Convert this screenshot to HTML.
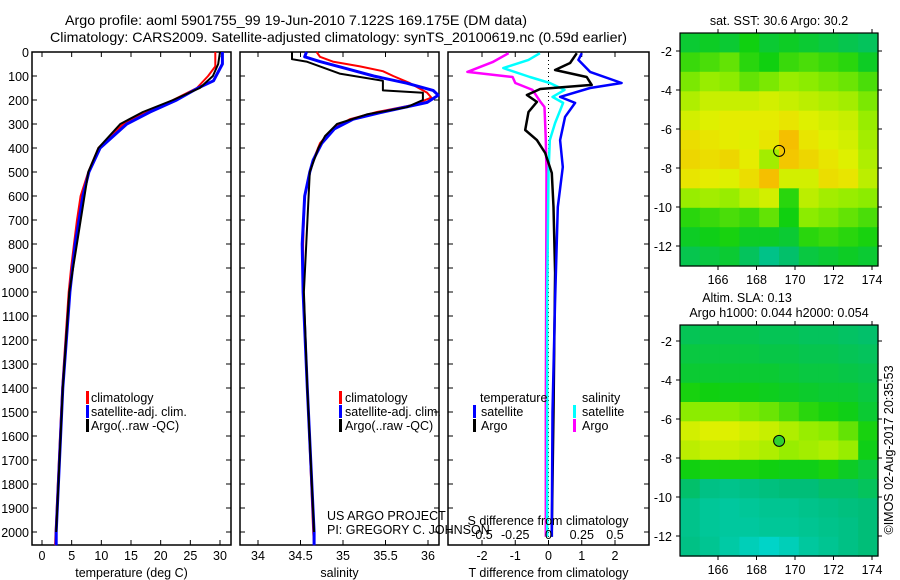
<!DOCTYPE html>
<html><head><meta charset="utf-8">
<style>
html,body{margin:0;padding:0;background:#fff;}
svg{display:block;font-family:"Liberation Sans",sans-serif;}
</style></head>
<body>
<svg id="fig" width="900" height="580" viewBox="0 0 900 580">
<text x="65" y="25" font-size="14" textLength="462" lengthAdjust="spacingAndGlyphs">Argo profile: aoml 5901755_99 19-Jun-2010 7.122S 169.175E (DM data)</text>
<text x="50" y="42" font-size="14" textLength="577" lengthAdjust="spacingAndGlyphs">Climatology: CARS2009. Satellite-adjusted climatology: synTS_20100619.nc (0.59d earlier)</text>
</svg>
<script>
// ---------- data ----------
const depthTicks = [0,100,200,300,400,500,600,700,800,900,1000,1100,1200,1300,1400,1500,1600,1700,1800,1900,2000];
const tempTicks = [0,5,10,15,20,25,30];
const salTicks = [34,34.5,35,35.5,36];
const tdiffTicks = [-2,-1,0,1,2];
const sdiffTicks = [-0.5,-0.25,0,0.25,0.5];

const tClimDepth = [0,60,100,150,200,250,300,350,400,500,600,700,800,900,1000,1400,2000,2055];
const tClim      = [29.2,29.2,28,26.1,22.1,17.7,13.7,11.5,9.5,7.8,6.5,5.9,5.4,4.9,4.5,3.4,2.3,2.2];
const tSatDepth = [0,50,120,150,200,250,300,400,500,600,800,1000,1400,2000,2055];
const tSat      = [30.4,30.4,28.9,26.3,22.7,18.2,14.3,9.8,7.9,6.9,5.6,4.7,3.5,2.4,2.4];
const tArgoDepth = [0,50,100,150,200,250,300,400,500,1000,1400,2000];
const tArgo      = [30.0,29.7,28.8,26.6,22.1,17,13.2,9.5,7.8,4.6,3.5,2.4];

const sClimDepth = [0,20,40,60,80,100,130,170,190,220,250,280,320,380,450,500,600,800,1000,1400,2000,2055];
const sClim      = [34.69,34.73,34.88,35.2,35.47,35.59,35.79,35.99,36.04,35.83,35.4,35.08,34.88,34.73,34.65,34.61,34.55,34.53,34.53,34.58,34.65,34.66];
const sSatDepth = [0,20,40,70,100,130,160,180,210,250,280,320,380,450,500,600,800,1000,1400,2000,2055];
const sSat      = [34.57,34.55,34.73,35.05,35.36,35.75,36.06,36.12,35.99,35.47,35.12,34.9,34.75,34.65,34.61,34.55,34.52,34.53,34.58,34.66,34.66];
const sArgoDepth = [0,30,40,60,90,120,160,170,200,230,260,300,350,400,500,1000,1400,2000];
const sArgo      = [34.4,34.4,34.57,34.73,34.96,35.47,35.47,35.94,35.94,35.75,35.28,34.93,34.79,34.71,34.61,34.54,34.58,34.66];

const dTSatDepth = [5,33,83,129,150,187,212,270,367,479,646,1033,1500,2000,2020];
const dTSat      = [1.0,0.9,1.25,2.2,1.25,0.35,0.8,0.5,0.35,0.43,0.28,0.2,0.12,0.1,0.1];
const dTArgoDepth = [5,46,75,104,137,154,179,208,250,325,367,421,504,646,921,1500,2000,2020];
const dTArgo      = [0.85,0.65,0.2,1.15,1.3,-0.25,-0.65,-0.35,-0.6,-0.7,-0.35,-0.1,0.1,0.15,0.2,0.15,0.1,0.1];
const dSSatDepth = [5,33,67,104,129,158,187,212,296,367,504,1033,2000,2020];
const dSSat      = [-0.065,-0.15,-0.34,-0.14,0.01,0.12,0.03,0.11,0.05,0.01,0,-0.01,-0.01,-0.01];
const dSArgoDepth = [5,42,83,104,129,158,208,229,367,504,1500,2000,2020];
const dSArgo      = [-0.3,-0.42,-0.61,-0.27,-0.25,-0.12,-0.06,-0.03,-0.02,-0.015,-0.02,-0.02,-0.02];

const lonTicks = [166,168,170,172,174];
const latTicks = [-2,-4,-6,-8,-10,-12];
const argoLon = 169.175, argoLat = -7.122;
// map grids: rows from lat -1 (top) to -13, 10 cols lon 164..174.3
const sstRows = [
 [0.40,0.42,0.40,0.45,0.40,0.42,0.40,0.38,0.36,0.34],
 [0.50,0.52,0.55,0.48,0.45,0.50,0.52,0.50,0.48,0.42],
 [0.58,0.62,0.60,0.55,0.58,0.62,0.60,0.58,0.56,0.52],
 [0.66,0.70,0.70,0.70,0.72,0.70,0.68,0.66,0.64,0.58],
 [0.72,0.74,0.76,0.76,0.76,0.78,0.74,0.72,0.70,0.62],
 [0.80,0.78,0.76,0.74,0.78,0.88,0.78,0.74,0.72,0.64],
 [0.82,0.80,0.82,0.76,0.64,0.86,0.82,0.78,0.74,0.66],
 [0.78,0.76,0.74,0.80,0.88,0.72,0.72,0.80,0.78,0.68],
 [0.62,0.64,0.62,0.68,0.72,0.48,0.68,0.64,0.62,0.60],
 [0.48,0.50,0.52,0.50,0.55,0.45,0.60,0.58,0.55,0.52],
 [0.42,0.44,0.46,0.42,0.42,0.40,0.48,0.50,0.48,0.46],
 [0.36,0.38,0.40,0.34,0.25,0.32,0.38,0.40,0.42,0.40]
];
const slaRows = [
 [0.35,0.36,0.36,0.36,0.35,0.35,0.34,0.34,0.33,0.32],
 [0.38,0.38,0.38,0.38,0.37,0.37,0.36,0.36,0.35,0.34],
 [0.40,0.40,0.40,0.40,0.40,0.39,0.38,0.38,0.37,0.36],
 [0.46,0.45,0.44,0.44,0.43,0.42,0.41,0.40,0.40,0.38],
 [0.60,0.60,0.60,0.58,0.56,0.52,0.48,0.46,0.44,0.40],
 [0.72,0.74,0.74,0.72,0.70,0.66,0.62,0.60,0.55,0.46],
 [0.68,0.70,0.70,0.68,0.66,0.62,0.64,0.66,0.62,0.44],
 [0.45,0.46,0.46,0.46,0.45,0.44,0.44,0.46,0.42,0.38],
 [0.32,0.26,0.24,0.26,0.28,0.30,0.30,0.32,0.32,0.34],
 [0.24,0.20,0.18,0.20,0.22,0.22,0.24,0.26,0.28,0.30],
 [0.24,0.20,0.18,0.18,0.20,0.20,0.22,0.24,0.26,0.30],
 [0.26,0.22,0.16,0.10,0.05,0.10,0.18,0.22,0.26,0.30]
];

// ---------- drawing ----------
const NS='http://www.w3.org/2000/svg';
const svg=document.getElementById('fig');
function mk(tag,attrs,parent){const e=document.createElementNS(NS,tag);for(const k in attrs)e.setAttribute(k,attrs[k]);(parent||svg).appendChild(e);return e;}
const yTop=52, yBot=545;
const yD = d => yTop + d*0.24;
function lin(d0,d1,r0,r1){return v=>r0+(v-d0)/(d1-d0)*(r1-r0);}
const xT = lin(0,30,42,220);
const xS = lin(34,36,258,428);
const xDT = lin(0,2,548.5,615);
const xDS = lin(0,0.5,548.5,615);

function panel(name,x0,x1,xTicks,xf,labels,title){
  const g=mk('g',{});
  
  
  const r=mk('rect',{x:x0,y:yTop,width:x1-x0,height:yBot-yTop,fill:'none',stroke:'#000','stroke-width':1.5},g);
  
  
  depthTicks.forEach(d=>{
    mk('line',{x1:x0,x2:x0+5,y1:yD(d),y2:yD(d),stroke:'#000'},g);
    mk('line',{x1:x1,x2:x1-5,y1:yD(d),y2:yD(d),stroke:'#000'},g);
  });
  xTicks.forEach((v,i)=>{
    const x=xf(v);
    mk('line',{x1:x,x2:x,y1:yBot,y2:yBot-5,stroke:'#000'},g);
    mk('line',{x1:x,x2:x,y1:yTop,y2:yTop+5,stroke:'#000'},g);
    if(labels){
      const t=mk('text',{x:x,y:560,'font-size':12.5,'text-anchor':'middle'},g);
      t.textContent=labels[i];
      
      
    }
  });
  const tt=mk('text',{x:(x0+x1)/2,y:577,'font-size':12.5,'text-anchor':'middle'},g);
  tt.textContent=title;
  
  
  return g;
}
function line(name,ds,vs,xf,color,w,parent){
  const pts=ds.map((d,i)=>{const x=xf(vs[i]);return x.toFixed(1)+','+yD(d).toFixed(1);}).join(' ');
  const p=mk('polyline',{points:pts,fill:'none',stroke:color,'stroke-width':w,'stroke-linejoin':'round'},parent);
  
  
}
function txt(name,x,y,s,size,anchor,parent){
  const t=mk('text',{x:x,y:y,'font-size':size||12.5,'text-anchor':anchor||'start'},parent);
  t.textContent=s;
  
  
  return t;
}
function legendBar(name,x,y,color){
  const r=mk('rect',{x:x,y:y-11,width:3,height:13,fill:color});
  
  
}

depthTicks.forEach(d=>{txt('depth-tick-label',29,yD(d)+5,String(d),12.5,'end');});

const p1=panel('temperature-panel',32,231,tempTicks,xT,tempTicks.map(String),'temperature (deg C)');
line('temp-climatology',tClimDepth,tClim,xT,'#ff0000',2,p1);
line('temp-satellite-adj',tSatDepth,tSat,xT,'#0000ff',3,p1);
line('temp-argo',tArgoDepth,tArgo,xT,'#000000',2,p1);
legendBar('legend-climatology-swatch',86,402,'#f00');txt('legend-climatology',91,402,'climatology');
legendBar('legend-satellite-swatch',86,416,'#00f');txt('legend-satellite',91,416,'satellite-adj. clim.');
legendBar('legend-argo-swatch',86,430,'#000');txt('legend-argo',91,430,'Argo(..raw -QC)');

const p2=panel('salinity-panel',240,439,salTicks,xS,salTicks.map(String),'salinity');
line('sal-climatology',sClimDepth,sClim,xS,'#ff0000',2,p2);
line('sal-satellite-adj',sSatDepth,sSat,xS,'#0000ff',3,p2);
line('sal-argo',sArgoDepth,sArgo,xS,'#000000',2,p2);
legendBar('legend2-climatology-swatch',339,402,'#f00');txt('legend2-climatology',345,402,'climatology');
legendBar('legend2-satellite-swatch',339,416,'#00f');txt('legend2-satellite',345,416,'satellite-adj. clim.');
legendBar('legend2-argo-swatch',339,430,'#000');txt('legend2-argo',345,430,'Argo(..raw -QC)');
txt('project-label',327,520,'US ARGO PROJECT');
txt('pi-label',327,534,'PI: GREGORY C. JOHNSON');

const p3=panel('difference-panel',448,649,tdiffTicks,xDT,tdiffTicks.map(String),'T difference from climatology');
const zl=mk('line',{x1:xDT(0),x2:xDT(0),y1:yTop,y2:yBot,stroke:'#000','stroke-dasharray':'1,3'},p3);

line('dsal-argo',dSArgoDepth,dSArgo,xDS,'#ff00ff',2.5,p3);
line('dsal-satellite',dSSatDepth,dSSat,xDS,'#00ffff',2.5,p3);
line('dtemp-argo',dTArgoDepth,dTArgo,xDT,'#000000',2.5,p3);
line('dtemp-satellite',dTSatDepth,dTSat,xDT,'#0000ff',2.5,p3);
txt('s-diff-axis-title',548,525,'S difference from climatology',12.5,'middle');
sdiffTicks.forEach(v=>txt('s-diff-tick-label',xDS(v),539,String(v),12.5,'middle'));
txt('legend3-temperature-head',480,402,'temperature');
legendBar('legend3-tsat-swatch',473,416,'#00f');txt('legend3-tsat',481,416,'satellite');
legendBar('legend3-targo-swatch',473,430,'#000');txt('legend3-targo',481,430,'Argo');
txt('legend3-salinity-head',582,402,'salinity');
legendBar('legend3-ssat-swatch',573,416,'#0ff');txt('legend3-ssat',582,416,'satellite');
legendBar('legend3-sargo-swatch',573,430,'#f0f');txt('legend3-sargo',582,430,'Argo');

const stops=[[0,[0,216,216]],[0.3,[0,190,120]],[0.45,[16,208,16]],[0.6,[140,236,0]],[0.75,[228,240,0]],[0.9,[248,184,0]],[1,[248,140,0]]];
function cmap(v){
  for(let i=1;i<stops.length;i++){
    if(v<=stops[i][0]){const a=stops[i-1],b=stops[i];const t=(v-a[0])/(b[0]-a[0]);
      const c=a[1].map((x,k)=>Math.round(x+(b[1][k]-x)*t));return 'rgb('+c.join(',')+')';}
  }
  return 'rgb(248,140,0)';
}
function map(name,top,bot,rows,filled,titleLines){
  const x0=680,x1=878;
  const xL=lin(166,174,718,872);
  const lat2y=lin(-2,-12,top+(name==='sst-map'?18:16), top+(name==='sst-map'?213:211));
  const g=mk('g',{});
  
  
  const nR=rows.length,nC=rows[0].length;
  const cwPx=(x1-x0)/nC, chPx=(bot-top)/nR;
  rows.forEach((row,ri)=>row.forEach((v,ci)=>{
    const r=mk('rect',{x:(x0+ci*cwPx).toFixed(1),y:(top+ri*chPx).toFixed(1),width:(cwPx+0.6).toFixed(1),height:(chPx+0.6).toFixed(1),fill:cmap(v)},g);
    
    
  }));
  const fr=mk('rect',{x:x0,y:top,width:x1-x0,height:bot-top,fill:'none',stroke:'#000','stroke-width':1.2},g);
  
  lonTicks.forEach(v=>{const x=xL(v);
    mk('line',{x1:x,x2:x,y1:top,y2:top-4,stroke:'#000'},g);
    mk('line',{x1:x,x2:x,y1:bot,y2:bot+4,stroke:'#000'},g);
    txt(name+'-lon-label',x,bot+18,String(v),12.5,'middle',g);});
  latTicks.forEach(v=>{const y=lat2y(v);
    mk('line',{x1:x0,x2:x0-4,y1:y,y2:y,stroke:'#000'},g);
    mk('line',{x1:x1,x2:x1+4,y1:y,y2:y,stroke:'#000'},g);
    txt(name+'-lat-label',672,y+5,String(v),12.5,'end',g);});
  const c=mk('circle',{cx:xL(argoLon),cy:lat2y(argoLat),r:5.5,fill:filled?'#30d030':'none',stroke:'#000','stroke-width':1},g);
  
  titleLines.forEach((s,i)=>txt(name+'-title',(i===0&&titleLines.length>1)?747:779,top-8-(titleLines.length-1-i)*15,s,12.5,'middle',g));
}
map('sst-map',33,266,sstRows,false,['sat. SST: 30.6 Argo: 30.2']);
map('sla-map',325,556,slaRows,true,['Altim. SLA: 0.13','Argo h1000: 0.044 h2000: 0.054']);
const st=txt('imos-stamp',0,0,'\u00A9IMOS 02-Aug-2017 20:35:53',12.5,'middle');
st.setAttribute('transform','translate(893,450) rotate(-90)');
</script>
</body></html>
